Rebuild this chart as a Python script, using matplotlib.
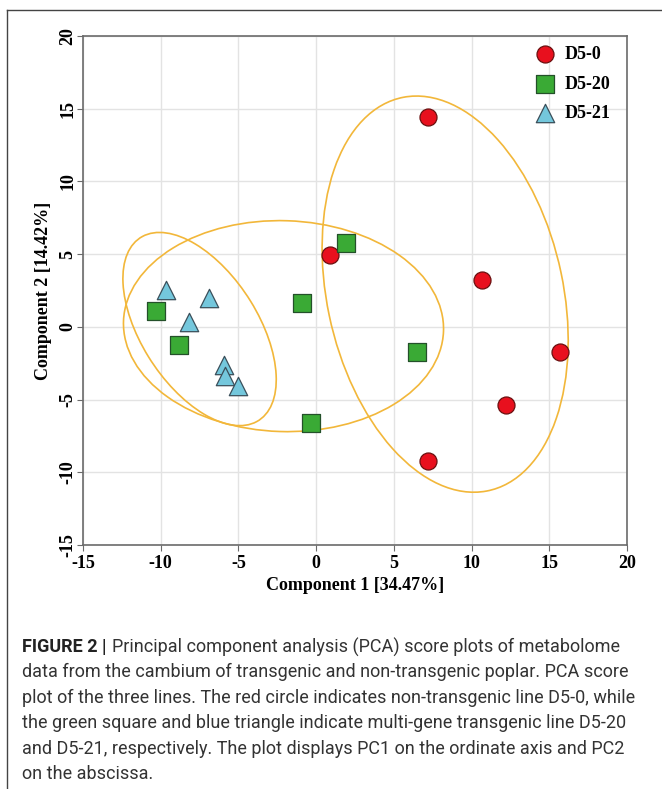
import numpy as np
import matplotlib
matplotlib.use('Agg')
import matplotlib.pyplot as plt
from matplotlib.patches import Ellipse
from matplotlib.lines import Line2D
matplotlib.rcParams['axes.unicode_minus'] = False  # plain hyphen like the original

# scores
d5_0_x = [7.2, 0.9, 10.65, 15.7, 12.2, 7.2]
d5_0_y = [14.4, 4.95, 3.2, -1.7, -5.35, -9.2]
d5_20_x = [1.9, -0.9, 6.5, -0.3, -10.3, -8.8]
d5_20_y = [5.8, 1.65, -1.7, -6.6, 1.1, -1.25]
d5_21_x = [-9.65, -6.9, -8.2, -5.9, -5.85, -5.05]
d5_21_y = [2.55, 1.95, 0.3, -2.65, -3.4, -4.1]

# group ellipses: centre, full width, full height, angle (deg)
ell_cx = [8.3, -2.1, -7.5]
ell_cy = [2.25, 0.05, -0.15]
ell_w = [27.6, 20.6, 14.7]
ell_h = [15.2, 14.5, 7.6]
ell_ang = [-78.9, -2.0, -60.0]

labels = ['D5-0', 'D5-20', 'D5-21']
x_ticks = [-15, -10, -5, 0, 5, 10, 15, 20]
y_ticks = [-15, -10, -5, 0, 5, 10, 15, 20]

caption = [
    'Principal component analysis (PCA) score plots of metabolome',
    'data from the cambium of transgenic and non-transgenic poplar. PCA score',
    'plot of the three lines. The red circle indicates non-transgenic line D5-0, while',
    'the green square and blue triangle indicate multi-gene transgenic line D5-20',
    'and D5-21, respectively. The plot displays PC1 on the ordinate axis and PC2',
    'on the abscissa.',
]

serif = 'Liberation Serif'

fig = plt.figure(figsize=(6.62, 7.89), dpi=100)
ax = fig.add_axes([83/662, 1-545/789, (627-83)/662, (545-36)/789])

ax.set_xlim(-15, 20)
ax.set_ylim(-15, 20)
ax.set_xticks(x_ticks)
ax.set_yticks(y_ticks)
ax.grid(True, color='#e3e3e3', lw=1.0, zorder=0)
ax.set_axisbelow(True)

for cx, cy, w, h, a in zip(ell_cx, ell_cy, ell_w, ell_h, ell_ang):
    ax.add_patch(Ellipse((cx, cy), w, h, angle=a, fill=False,
                         edgecolor='#f2b73a', lw=1.2, zorder=2))

ax.scatter(d5_0_x, d5_0_y, s=150, marker='o', c='#e8101e',
           edgecolors='#6a1010', linewidths=0.9, zorder=3, label=labels[0])
ax.scatter(d5_20_x, d5_20_y, s=165, marker='s', c='#3aaa35',
           edgecolors='#24502a', linewidths=0.9, zorder=3, label=labels[1])
ax.scatter(d5_21_x, d5_21_y, s=175, marker='^', c='#74c7dc',
           edgecolors='#3a4f5a', linewidths=0.9, zorder=3, label=labels[2])

for sp in ax.spines.values():
    sp.set_color('#6b6b6b')
    sp.set_linewidth(1.2)

ax.tick_params(axis='both', direction='out', length=4, color='#6b6b6b',
               labelsize=13)
ax.tick_params(axis='y', pad=1)
for lab in ax.get_xticklabels():
    lab.set_fontfamily(serif)
    lab.set_fontweight('bold')
for lab in ax.get_yticklabels():
    lab.set_fontfamily(serif)
    lab.set_fontweight('bold')
    lab.set_rotation(90)
    lab.set_va('center')

ax.set_xlabel('Component 1 [34.47%]', fontfamily=serif, fontweight='bold',
              fontsize=13, labelpad=3)
ax.set_ylabel('Component 2 [14.42%]', fontfamily=serif, fontweight='bold',
              fontsize=13, labelpad=5)

leg = ax.legend(loc='upper right', bbox_to_anchor=(0.988, 1.0), frameon=False,
                handlelength=1.2, handletextpad=0.5, labelspacing=0.7,
                borderaxespad=0.25, borderpad=0.3,
                prop={'family': serif, 'weight': 'bold', 'size': 13})

# outer figure frame (open at right and bottom)
fig.add_artist(Line2D([7/662, 1], [1-10/789, 1-10/789], color='#444444', lw=1.0))
fig.add_artist(Line2D([7/662, 7/662], [0, 1-10/789], color='#444444', lw=1.0))

# caption
cap_font = 'Roboto'
r = fig.canvas.get_renderer()
y0 = 647
for i, line in enumerate(caption):
    yy = 1 - (y0 + i*25.4)/789
    xx = 22/662
    if i == 0:
        t = fig.text(xx, yy, 'FIGURE 2 |', fontfamily=cap_font, fontweight='bold',
                     fontsize=13.0, color='#222222', va='center')
        bb = t.get_window_extent(renderer=r)
        xx = (bb.x1 + 5)/662
    fig.text(xx, yy, line, fontfamily=cap_font, fontsize=13.0,
             color='#333333', va='center')

fig.savefig('out.png', dpi=100)
